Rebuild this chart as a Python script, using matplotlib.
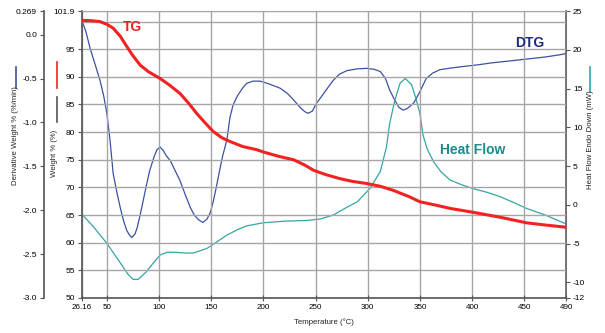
"""TGA / DTG / heat flow overlay with three y axes."""

import matplotlib

matplotlib.use("Agg")
import matplotlib.pyplot as plt
from matplotlib.lines import Line2D

plt.rcParams["font.family"] = ["Liberation Sans", "DejaVu Sans"]
plt.rcParams["axes.unicode_minus"] = False

# --- data --------------------------------------------------------------
tg_temp = [26.16, 35, 43, 50, 56, 63, 69, 75, 82, 90, 101, 110, 120, 128, 136,
           144, 152, 160, 168, 180, 194, 200, 215, 229, 240, 248, 260, 273,
           285, 299, 312, 324, 340, 350, 365, 379, 401, 427, 452, 470, 490]
tg_weight = [100.2, 100.15, 100.0, 99.5, 98.8, 97.3, 95.5, 93.8, 92.1, 90.9,
             89.7, 88.5, 87.0, 85.3, 83.4, 81.7, 80.1, 79.0, 78.3, 77.4, 76.8,
             76.4, 75.6, 75.0, 74.0, 73.1, 72.3, 71.6, 71.1, 70.7, 70.2, 69.5,
             68.3, 67.4, 66.8, 66.2, 65.5, 64.6, 63.6, 63.2, 62.8]

hf_temp = [26.16, 37, 50, 63, 70, 75, 80, 88, 95, 101, 108, 114, 125, 133, 146,
           155, 165, 175, 184, 200, 220, 242, 255, 267, 280, 290, 302, 312, 318,
           321, 326, 331, 336, 342, 346, 350, 353, 357, 363, 370, 379, 390, 401,
           415, 427, 440, 452, 470, 490]
hf_mw = [-1.2, -2.8, -4.95, -7.5, -8.9, -9.6, -9.6, -8.6, -7.4, -6.45, -6.1,
         -6.1, -6.2, -6.2, -5.6, -4.8, -3.9, -3.2, -2.7, -2.3, -2.1, -2.0, -1.8,
         -1.3, -0.3, 0.4, 2.1, 4.3, 7.5, 10.5, 13.5, 15.7, 16.3, 15.5, 13.8,
         11.8, 9.0, 7.2, 5.6, 4.3, 3.2, 2.6, 2.1, 1.6, 1.06, 0.3, -0.44, -1.3,
         -2.45]

dtg_temp = [26.16, 30, 34, 39, 43.4, 47, 50, 53, 56, 60, 63, 66, 69, 72, 74, 77,
            79, 82, 85, 88, 91, 95, 98, 101, 104, 107, 111, 115, 120, 125, 130,
            134, 138, 142, 146, 149, 152, 155, 158, 161, 165, 168, 171, 175, 180,
            184, 190, 197, 205, 216, 223, 229, 236, 240, 243, 247, 251, 256, 262,
            267, 273, 280, 290, 299, 306, 312, 317, 321, 326, 330, 334, 338, 344,
            350, 356, 362, 369, 380, 390, 405, 420, 440, 455, 470, 484, 490]
dtg_rate = [0.16, 0.03, -0.16, -0.35, -0.52, -0.70, -0.90, -1.2, -1.58, -1.82,
            -1.98, -2.12, -2.23, -2.29, -2.31, -2.27, -2.2, -2.05, -1.88, -1.71,
            -1.55, -1.40, -1.31, -1.28, -1.32, -1.38, -1.44, -1.54, -1.66, -1.82,
            -1.97, -2.06, -2.11, -2.14, -2.10, -2.03, -1.90, -1.73, -1.55, -1.38,
            -1.2, -0.94, -0.80, -0.70, -0.61, -0.555, -0.53, -0.53, -0.56, -0.61,
            -0.67, -0.745, -0.84, -0.88, -0.896, -0.87, -0.78, -0.70, -0.60,
            -0.52, -0.45, -0.41, -0.39, -0.384, -0.395, -0.42, -0.50, -0.63,
            -0.75, -0.83, -0.86, -0.84, -0.78, -0.65, -0.50, -0.44, -0.40, -0.38,
            -0.365, -0.345, -0.32, -0.295, -0.275, -0.255, -0.23, -0.215]

x_ticks = [26.16, 50, 100, 150, 200, 250, 300, 350, 400, 450, 490]
weight_ticks = [50, 55, 60, 65, 70, 75, 80, 85, 90, 95, 101.9]
dtg_ticks = [-3.0, -2.5, -2.0, -1.5, -1.0, -0.5, 0.0, 0.269]
hf_ticks = [-12, -10, -5, 0, 5, 10, 15, 20, 25]

RED = "#f22222"
NAVY = "#3a52a0"
TEAL = "#35a5a5"
GRID = "#a6a6a6"
AXIS = "#555555"

W, H = 605, 333
fig = plt.figure(figsize=(W / 100, H / 100), dpi=100)
fig.patch.set_facecolor("white")

left, right, top, bottom = 82, 566, 11, 298
ax = fig.add_axes([left / W, 1 - bottom / H, (right - left) / W, (bottom - top) / H])
ax_hf = ax.twinx()
ax_dtg = ax.twinx()

# weight axis (primary)
ax.set_xlim(26.16, 490)
ax.set_ylim(50, 101.9)
ax.set_xticks(x_ticks)
ax.set_xticklabels(["26.16"] + [str(int(t)) for t in x_ticks[1:]])
ax.set_yticks(weight_ticks)
ax.set_yticklabels([f"{t:g}" for t in weight_ticks])
ax.set_yticks([100], minor=True)
ax.grid(True, which="both", color=GRID, linewidth=1.0)
ax.set_axisbelow(True)
ax.tick_params(axis="x", direction="inout", length=5, labelsize=5.8, pad=2,
               color=AXIS)
ax.tick_params(axis="y", which="major", direction="out", length=3, labelsize=6,
               pad=2, color=AXIS)
ax.tick_params(axis="y", which="minor", length=0)
ax.spines["top"].set_color(GRID)
ax.spines["right"].set_visible(False)
for s in ("left", "bottom"):
    ax.spines[s].set_color(AXIS)
    ax.spines[s].set_linewidth(1.2)

# heat flow axis (right)
ax_hf.set_ylim(-12, 25)
ax_hf.set_yticks(hf_ticks)
ax_hf.tick_params(axis="y", direction="out", length=3, labelsize=6, pad=2,
                  color=AXIS)
ax_hf.spines["right"].set_color(AXIS)
ax_hf.spines["right"].set_linewidth(1.2)
for s in ("top", "left", "bottom"):
    ax_hf.spines[s].set_visible(False)

# derivative axis (outer left)
ax_dtg.set_ylim(-3.0, 0.269)
ax_dtg.spines["left"].set_position(("axes", (44 - left) / (right - left)))
ax_dtg.spines["left"].set_visible(True)
ax_dtg.spines["left"].set_color(AXIS)
ax_dtg.spines["left"].set_linewidth(1.2)
for s in ("top", "right", "bottom"):
    ax_dtg.spines[s].set_visible(False)
ax_dtg.yaxis.set_ticks_position("left")
ax_dtg.set_yticks(dtg_ticks)
ax_dtg.set_yticklabels(["-3.0", "-2.5", "-2.0", "-1.5", "-1.0", "-0.5", "0.0",
                        "0.269"])
ax_dtg.tick_params(axis="y", direction="out", length=3, labelsize=6, pad=2,
                   color=AXIS)

# curves
ax_dtg.plot(dtg_temp, dtg_rate, color=NAVY, linewidth=0.9)
ax_hf.plot(hf_temp, hf_mw, color=TEAL, linewidth=0.9)
ax.plot(tg_temp, tg_weight, color=RED, linewidth=2.2, zorder=3)
# weight axes above the twins so TG sits on top
ax_dtg.set_zorder(1)
ax_hf.set_zorder(2)
ax.set_zorder(3)
for a in (ax, ax_hf, ax_dtg):
    a.patch.set_visible(False)

# curve labels
ax.text(0.105, 0.944, "TG", transform=ax.transAxes, color="#ee2222",
        fontsize=10, fontweight="bold", ha="center", va="center")
ax.text(0.926, 0.889, "DTG", transform=ax.transAxes, color="#1f2a7a",
        fontsize=10, fontweight="bold", ha="center", va="center")
ax.text(0.808, 0.516, "Heat Flow", transform=ax.transAxes, color="#1b8c8c",
        fontsize=10, fontweight="bold", ha="center", va="center")

# axis titles with colour keys
fig.text(16 / W, 1 - 136 / H, "Derivative Weight % (%/min)", rotation=90,
         fontsize=5.6, ha="center", va="center", color="#222222")
fig.text(55 / W, 1 - 153 / H, "Weight % (%)", rotation=90,
         fontsize=5.6, ha="center", va="center", color="#222222")
fig.text(590 / W, 1 - 140 / H, "Heat Flow Endo Down (mW)", rotation=90,
         fontsize=5.6, ha="center", va="center", color="#222222")
fig.text(324 / W, 1 - 322 / H, "Temperature (\u00b0C)", fontsize=5.6,
         ha="center", va="center", color="#222222")

for x, y0, y1, c in [(16, 67, 88, NAVY), (57, 62, 88, RED), (57, 97, 122, "#555555"),
                     (590, 67, 92, TEAL)]:
    fig.add_artist(Line2D([x / W, x / W], [1 - y0 / H, 1 - y1 / H],
                          color=c, linewidth=1.2, transform=fig.transFigure))

fig.savefig("out.png", dpi=100, facecolor="white")
